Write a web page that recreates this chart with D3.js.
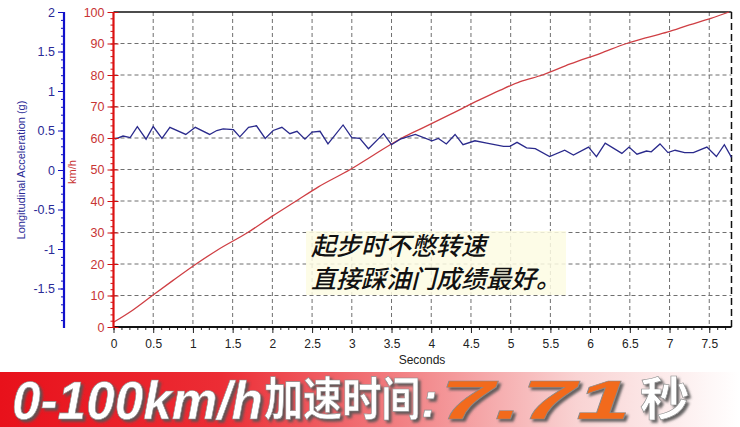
<!DOCTYPE html>
<html><head><meta charset="utf-8">
<script src="https://cdn.jsdelivr.net/npm/d3@7"></script>
<style>
html,body{margin:0;padding:0;background:#fff;}
svg{display:block;}
</style></head>
<body>
<svg id="c" width="740" height="427"></svg>
<script>
// ---- data ----
const speedTime = [0, 0.25, 0.49, 0.75, 1.04, 1.3, 1.69, 2.0, 2.30, 2.58, 2.98, 3.3, 3.63, 3.9, 4.24, 4.6, 4.87, 5.12, 5.4, 5.75, 6.13, 6.46, 6.7, 6.97, 7.25, 7.52, 7.75];
const speedKmh  = [1.5, 5.5, 10, 14.8, 20, 24.3, 30, 35.2, 40, 44.5, 50, 55, 60, 63.3, 67.5, 72, 75.2, 77.9, 80, 83.5, 86.9, 90, 91.8, 93.6, 95.9, 98, 100];
const accTime = [0.02,0.12,0.21,0.30,0.41,0.50,0.61,0.71,0.91,1.03,1.21,1.30,1.38,1.51,1.59,1.70,1.80,1.91,2.01,2.12,2.22,2.31,2.41,2.50,2.60,2.70,2.89,3.00,3.10,3.21,3.40,3.50,3.61,3.80,4.01,4.09,4.19,4.30,4.40,4.55,4.70,4.91,4.99,5.08,5.20,5.31,5.49,5.68,5.79,5.98,6.08,6.19,6.40,6.49,6.59,6.71,6.77,6.88,6.98,7.07,7.19,7.30,7.47,7.59,7.69,7.78];
const accG    = [0.39,0.43,0.41,0.55,0.39,0.55,0.40,0.54,0.45,0.54,0.45,0.50,0.52,0.51,0.42,0.54,0.56,0.40,0.50,0.54,0.46,0.49,0.39,0.48,0.49,0.33,0.57,0.41,0.40,0.27,0.46,0.32,0.39,0.45,0.37,0.40,0.33,0.45,0.32,0.37,0.34,0.30,0.30,0.35,0.28,0.27,0.17,0.25,0.19,0.29,0.17,0.34,0.21,0.29,0.20,0.24,0.23,0.33,0.22,0.25,0.22,0.22,0.29,0.17,0.32,0.16];
const xTicks = [0,0.5,1,1.5,2,2.5,3,3.5,4,4.5,5,5.5,6,6.5,7,7.5];
const speedTicks = [0,10,20,30,40,50,60,70,80,90,100];
const gTicks = [-1.5,-1,-0.5,0,0.5,1,1.5,2];
const noteLines = ["起步时不憋转速", "直接踩油门成绩最好。"];
const bannerParts = ["0-100km/h", "加速时间", ":", "7.71", "秒"];

// ---- scales ----
const svg = d3.select("#c");
const x = d3.scaleLinear().domain([0, 7.78]).range([113.5, 731.5]);
const yS = d3.scaleLinear().domain([0, 100]).range([327, 12]);
const yG = d3.scaleLinear().domain([-2, 2]).range([328, 12]);
const FONT = "'Liberation Sans', Arial, sans-serif";
const CJK = "'Noto Sans CJK SC', sans-serif";

// grid
const grid = svg.append("g");
grid.selectAll("line.h").data(speedTicks.filter(d => d > 0 && d < 100)).join("line")
  .attr("x1", x(0)).attr("x2", x(7.78)).attr("y1", d => yS(d)).attr("y2", d => yS(d))
  .attr("stroke", "#6f6f6f").attr("stroke-width", 1).attr("stroke-dasharray", "4,3");
grid.selectAll("line.v").data(xTicks.filter(d => d > 0)).join("line")
  .attr("y1", yS(100)).attr("y2", yS(0)).attr("x1", d => x(d)).attr("x2", d => x(d))
  .attr("stroke", "#6f6f6f").attr("stroke-width", 1).attr("stroke-dasharray", "4,3");
svg.append("line").attr("x1", x(7.78)).attr("x2", x(7.78)).attr("y1", yS(100)).attr("y2", yS(0))
  .attr("stroke", "#111").attr("stroke-width", 1.5).attr("stroke-dasharray", "7,4");
svg.append("line").attr("x1", x(0)).attr("x2", x(7.78)).attr("y1", yS(100)).attr("y2", yS(100))
  .attr("stroke", "#111").attr("stroke-width", 1.5);

// annotation
const note = svg.append("g");
note.append("rect").attr("x", 306).attr("y", 231).attr("width", 260).attr("height", 64)
  .attr("fill", "#fdfbe3").attr("opacity", 0.85);
note.selectAll("text").data(noteLines).join("text")
  .attr("x", 311).attr("y", (d, i) => 255 + i * 33)
  .attr("font-family", CJK).attr("font-size", 25)
  .attr("font-style", "italic").attr("font-weight", 500).attr("fill", "#111")
  .text(d => d);

// lines
const lineS = d3.line().curve(d3.curveMonotoneX).x(d => x(d[0])).y(d => yS(d[1]));
const lineG = d3.line().x(d => x(d[0])).y(d => yG(d[1]));
svg.append("path").datum(speedTime.map((t, i) => [t, speedKmh[i]]))
  .attr("d", lineS).attr("fill", "none").attr("stroke", "#cf3f44").attr("stroke-width", 1.3);
svg.append("path").datum(accTime.map((t, i) => [t, accG[i]]))
  .attr("d", lineG).attr("fill", "none").attr("stroke", "#2a2a8c").attr("stroke-width", 1.3);

// x axis
const xa = svg.append("g").attr("transform", `translate(0,${yS(0)})`)
  .call(d3.axisBottom(x).tickValues(d3.range(0, 7.75, 0.1)).tickSize(3).tickFormat(""));
xa.select(".domain").remove();
xa.selectAll("line").attr("stroke", "#222");
const xa2 = svg.append("g").attr("transform", `translate(0,${yS(0)})`)
  .call(d3.axisBottom(x).tickValues(xTicks).tickSize(6).tickPadding(6).tickFormat(d => d));
xa2.select(".domain").remove();
xa2.selectAll("line").attr("stroke", "#222");
xa2.selectAll("text").attr("font-family", FONT).attr("font-size", 12).attr("fill", "#222");
svg.append("line").attr("x1", x(0)).attr("x2", x(7.78)).attr("y1", yS(0)).attr("y2", yS(0))
  .attr("stroke", "#111").attr("stroke-width", 2);
svg.append("text").attr("x", 422).attr("y", 364).attr("text-anchor", "middle")
  .attr("font-family", FONT).attr("font-size", 12).attr("fill", "#222").text("Seconds");

// speed axis (red)
const ra = svg.append("g").attr("transform", `translate(${x(0)},0)`)
  .call(d3.axisLeft(yS).tickValues(speedTicks).tickSize(6).tickPadding(3));
ra.select(".domain").remove();
ra.selectAll("line").attr("stroke", "#d01010").attr("x2", -6).attr("x1", 5);
ra.selectAll("text").attr("font-family", FONT).attr("font-size", 12.5).attr("fill", "#c83434");
const ram = svg.append("g").attr("transform", `translate(${x(0)},0)`)
  .call(d3.axisLeft(yS).tickValues(d3.range(2, 100, 2)).tickSize(3).tickFormat(""));
ram.select(".domain").remove();
ram.selectAll("line").attr("stroke", "#d01010");
svg.append("line").attr("x1", x(0)).attr("x2", x(0)).attr("y1", yS(100)).attr("y2", yS(0) + 1)
  .attr("stroke", "#dd1111").attr("stroke-width", 2.2);
svg.append("text").attr("transform", `translate(76,172) rotate(-90)`).attr("text-anchor", "middle")
  .attr("font-family", FONT).attr("font-size", 11).attr("fill", "#c83434").text("km/h");

// g axis (blue)
const gx = 64;
const ba = svg.append("g").attr("transform", `translate(${gx},0)`)
  .call(d3.axisLeft(yG).tickValues(gTicks).tickSize(6).tickPadding(3).tickFormat(d => d));
ba.select(".domain").remove();
ba.selectAll("line").attr("stroke", "#1010c0");
ba.selectAll("text").attr("font-family", FONT).attr("font-size", 12.5).attr("fill", "#2a2a96");
const bam = svg.append("g").attr("transform", `translate(${gx},0)`)
  .call(d3.axisLeft(yG).tickValues(d3.range(-1.9, 2, 0.1)).tickSize(3).tickFormat(""));
bam.select(".domain").remove();
bam.selectAll("line").attr("stroke", "#1010c0");
svg.append("line").attr("x1", gx).attr("x2", gx).attr("y1", yG(2)).attr("y2", yG(-2))
  .attr("stroke", "#1111cc").attr("stroke-width", 2.2);
svg.append("text").attr("transform", `translate(25,170) rotate(-90)`).attr("text-anchor", "middle")
  .attr("font-family", FONT).attr("font-size", 11).attr("fill", "#2a2a96")
  .text("Longitudinal Acceleration (g)");

// ---- banner ----
const defs = svg.append("defs");
const gr = defs.append("linearGradient").attr("id", "bg").attr("x1", "0").attr("x2", "1").attr("y1", "0").attr("y2", "0");
[["0%", "#e8111b"], ["30%", "#ec2d35"], ["55%", "#f28386"], ["78%", "#f9d3d3"], ["100%", "#ffffff"]]
  .forEach(s => gr.append("stop").attr("offset", s[0]).attr("stop-color", s[1]));
const flt = defs.append("filter").attr("id", "sh").attr("x", "-10%").attr("y", "-20%").attr("width", "130%").attr("height", "150%");
flt.append("feDropShadow").attr("dx", 2.5).attr("dy", 2.5).attr("stdDeviation", 0.8)
  .attr("flood-color", "#555").attr("flood-opacity", 0.9);
svg.append("rect").attr("x", 0).attr("y", 372).attr("width", 740).attr("height", 55).attr("fill", "url(#bg)");

// each part: left x, baseline y, font size, horizontal scale
const parts = [
  {t: bannerParts[0], x: 12, y: 419, fs: 54, sx: 0.95, fam: FONT, fill: "#fff", italic: true},
  {t: bannerParts[1], x: 264, y: 415, fs: 46, sx: 0.85, fam: CJK, fill: "#fff", italic: false},
  {t: bannerParts[2], x: 421, y: 417, fs: 50, sx: 1.0, fam: FONT, fill: "#fff", italic: true},
  {t: bannerParts[3], x: 440, y: 419, fs: 56, sx: 1.75, fam: FONT, fill: "#f26a1c", italic: true},
  {t: bannerParts[4], x: 640, y: 415, fs: 46, sx: 1.08, fam: CJK, fill: "#fff", italic: false}
];
svg.append("g").attr("filter", "url(#sh)").selectAll("text").data(parts).join("text")
  .attr("transform", d => `translate(${d.x},${d.y}) scale(${d.sx},1)`)
  .attr("x", 0).attr("y", 0)
  .attr("font-family", d => d.fam).attr("font-size", d => d.fs)
  .attr("font-weight", "bold").attr("font-style", d => d.italic ? "italic" : "normal")
  .attr("fill", d => d.fill).attr("stroke", "#8a8a8a").attr("stroke-width", 0.6)
  .text(d => d.t);
</script>
</body></html>
